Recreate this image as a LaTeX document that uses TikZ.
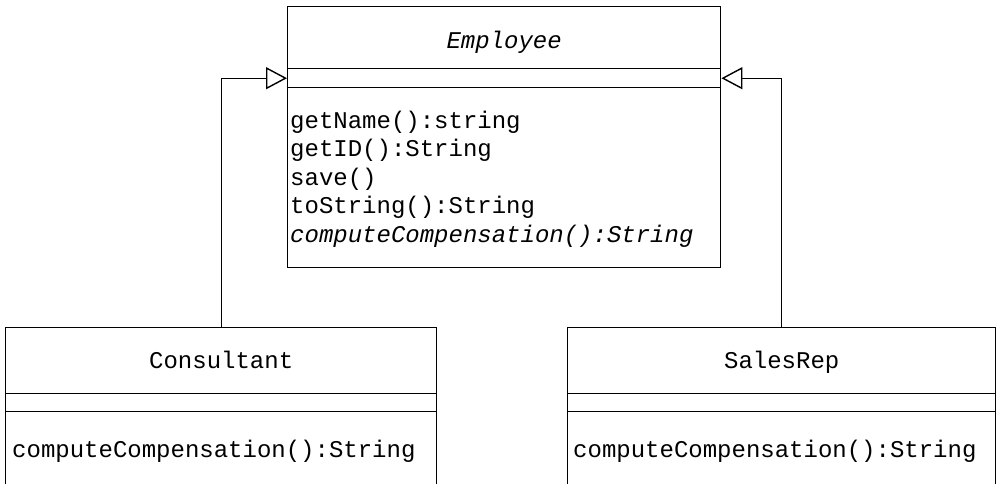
\documentclass[tikz,border=0pt]{standalone}
\usepackage{fontspec}
\setmonofont{Liberation Mono}
\usetikzlibrary{arrows.meta}
\begin{document}
\begin{tikzpicture}[x=1pt,y=-1pt,
  comp/.style={draw, line width=1.4pt, rectangle, inner sep=0pt, anchor=north west},
  lbl/.style={inner sep=0pt, font=\ttfamily\fontsize{24}{29}\selectfont},
  ilbl/.style={inner sep=0pt, font=\ttfamily\itshape\fontsize{24}{29}\selectfont},
  gen/.style={line width=1.4pt, -{Triangle[open, length=21pt, width=22pt, line width=1.4pt]}}
]
\useasboundingbox (0,0) rectangle (1000,483);
\clip (0,0) rectangle (1000,483);

% Employee
\node[comp, minimum width=433pt, minimum height=62pt] (emptitle) at (287,6) {};
\node[comp, minimum width=433pt, minimum height=19pt] (empattr) at (287,68) {};
\node[comp, minimum width=433pt, minimum height=180pt] (empops) at (287,87) {};
\node[ilbl, anchor=base] (empname) at (emptitle.center |- 0,48) {Employee};
\node[lbl, anchor=base west] (op1) at (290,128) {getName():string};
\node[lbl, anchor=base west] (op2) at (290,156.5) {getID():String};
\node[lbl, anchor=base west] (op3) at (290,185) {save()};
\node[lbl, anchor=base west] (op4) at (290,213.5) {toString():String};
\node[ilbl, anchor=base west] (op5) at (290,242) {computeCompensation():String};

% Consultant
\node[comp, minimum width=431pt, minimum height=66pt] (constitle) at (5,327) {};
\node[comp, minimum width=431pt, minimum height=18pt] (consattr) at (5,393) {};
\node[comp, minimum width=431pt, minimum height=80pt] (consops) at (5,411) {};
\node[lbl, anchor=base] (consname) at (constitle.center |- 0,368) {Consultant};
\node[lbl, anchor=base west] (consop) at (12,457) {computeCompensation():String};

% SalesRep
\node[comp, minimum width=428pt, minimum height=66pt] (salestitle) at (567,327) {};
\node[comp, minimum width=428pt, minimum height=18pt] (salesattr) at (567,393) {};
\node[comp, minimum width=428pt, minimum height=80pt] (salesops) at (567,411) {};
\node[lbl, anchor=base] (salesname) at (salestitle.center |- 0,368) {SalesRep};
\node[lbl, anchor=base west] (salesop) at (573,457) {computeCompensation():String};

% Generalizations
\draw[gen] (constitle.north) |- (empattr.west);
\draw[gen] (salestitle.north) |- (empattr.east);
\end{tikzpicture}
\end{document}
